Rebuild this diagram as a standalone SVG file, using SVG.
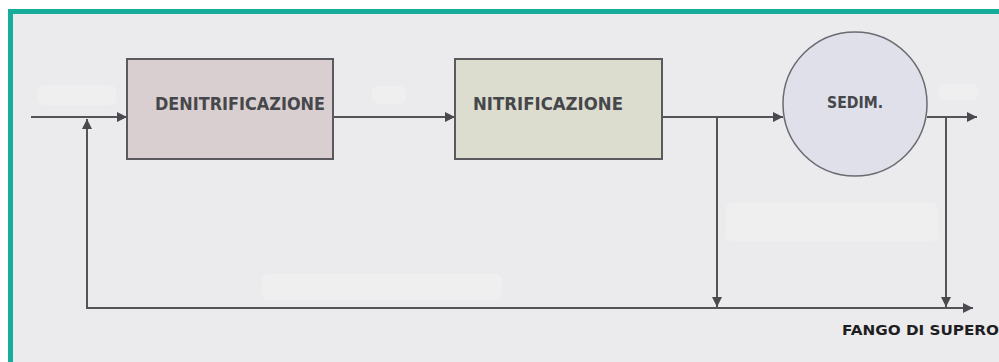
<svg xmlns="http://www.w3.org/2000/svg" width="999" height="362" viewBox="0 0 999 362">
  <style>
    .ln { fill: none; stroke: #545458; stroke-width: 2; }
    .box { stroke: #5a5a5e; stroke-width: 2; }
    .lbl { font-family: "DejaVu Sans", "Liberation Sans", sans-serif; font-weight: bold; fill: #45474b; }
    .patch { fill: #efeff0; }
  </style>
  <defs>
    <marker id="ah" viewBox="0 0 10 10" refX="10" refY="5" markerWidth="12" markerHeight="10" markerUnits="userSpaceOnUse" orient="auto">
      <path d="M0,0 L10,5 L0,10 Z" fill="#4a4a4e"/>
    </marker>
  </defs>
  <rect x="0" y="0" width="999" height="362" fill="#fff"/>
  <rect x="8" y="9" width="991" height="353" fill="#ebebee"/>
  <rect x="8" y="9" width="991" height="5" fill="#17ad9c"/>
  <rect x="8" y="9" width="5" height="353" fill="#17ad9c"/>
  <g id="patches">
    <rect class="patch" x="38" y="85" width="78" height="20" rx="6"/>
    <rect class="patch" x="372" y="86" width="34" height="18" rx="6"/>
    <rect class="patch" x="262" y="274" width="240" height="26" rx="6"/>
    <rect class="patch" x="726" y="203" width="212" height="38" rx="6"/>
    <rect class="patch" x="938" y="84" width="40" height="16" rx="6"/>
  </g>
  <g id="connectors">
    <line class="ln" x1="31" y1="117" x2="127" y2="117" marker-end="url(#ah)"/>
    <line class="ln" x1="333" y1="117" x2="455" y2="117" marker-end="url(#ah)"/>
    <line class="ln" x1="662" y1="117" x2="783" y2="117" marker-end="url(#ah)"/>
    <line class="ln" x1="927" y1="117" x2="977" y2="117" marker-end="url(#ah)"/>
    <line class="ln" x1="717" y1="117" x2="717" y2="307" marker-end="url(#ah)"/>
    <line class="ln" x1="946" y1="117" x2="946" y2="307" marker-end="url(#ah)"/>
    <line class="ln" x1="87" y1="308" x2="973" y2="308" marker-end="url(#ah)"/>
    <line class="ln" x1="87" y1="309" x2="87" y2="119" marker-end="url(#ah)"/>
  </g>
  <g id="denitrificazione">
    <rect class="box" x="127" y="59" width="206" height="100" fill="#d9cfd0"/>
    <text class="lbl" x="155" y="110" font-size="18" textLength="170" lengthAdjust="spacingAndGlyphs">DENITRIFICAZIONE</text>
  </g>
  <g id="nitrificazione">
    <rect class="box" x="455" y="59" width="207" height="100" fill="#dcdccf"/>
    <text class="lbl" x="473" y="110" font-size="18" textLength="150" lengthAdjust="spacingAndGlyphs">NITRIFICAZIONE</text>
  </g>
  <g id="sedim">
    <circle cx="855" cy="104" r="72" fill="#dfe0ea" stroke="#6a6a70" stroke-width="1.5"/>
    <text class="lbl" x="827" y="108" font-size="15" textLength="56" lengthAdjust="spacingAndGlyphs">SEDIM.</text>
  </g>
  <g id="fango">
    <text class="lbl" x="842" y="335" font-size="14" textLength="157" lengthAdjust="spacingAndGlyphs" style="fill:#1e1e22">FANGO DI SUPERO</text>
  </g>
</svg>
